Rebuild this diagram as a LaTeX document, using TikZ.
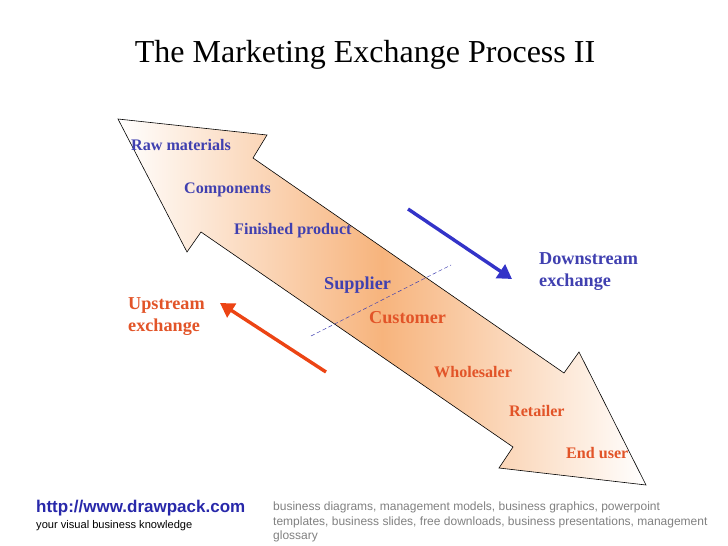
\documentclass[tikz,border=0pt]{standalone}
\usepackage{fontspec}
\setmainfont{Liberation Serif}
\setsansfont{Liberation Sans}
\usetikzlibrary{arrows.meta}
\definecolor{tblue}{RGB}{64,64,176}
\definecolor{torange}{RGB}{226,84,40}
\definecolor{ablue}{RGB}{51,51,200}
\definecolor{ared}{RGB}{236,68,20}
\definecolor{band}{RGB}{247,180,125}
\definecolor{urlblue}{RGB}{40,40,170}
\begin{document}
\begin{tikzpicture}[x=1pt,y=-1pt,
  lbl/.style={font=\bfseries\fontsize{16.1}{18}\selectfont, anchor=west, inner sep=0pt},
  big/.style={font=\bfseries\fontsize{18.2}{22}\selectfont, anchor=west, inner sep=0pt, align=left},
  bluetx/.style={text=tblue},
  orgtx/.style={text=torange},
  fatarrow/.style={line width=3.4pt, -{Triangle[length=14pt,width=16pt]}}
]
\useasboundingbox (0,0) rectangle (728,546);
% double arrow band
\shade[left color=white, right color=white, middle color=band]
  (118,119) -- (267,135) -- (253,158) -- (564,373) -- (579,352) -- (646,485)
  -- (499,468) -- (513,447) -- (201,232) -- (187,252) -- cycle;
\draw[line width=0.6pt]
  (118,119) -- (267,135) -- (253,158) -- (564,373) -- (579,352) -- (646,485)
  -- (499,468) -- (513,447) -- (201,232) -- (187,252) -- cycle;
% dashed divider
\coordinate (d1) at (311,336);
\coordinate (d2) at (451,265);
\draw[tblue, dashed, dash pattern=on 4pt off 2.5pt, line width=0.5pt] (d1) -- (d2);
% title
\node (title) at (365,55) {\fontsize{32}{36}\selectfont The Marketing Exchange Process II};
% labels
\node[lbl,bluetx] (raw) at (131,145) {Raw materials};
\node[lbl,bluetx] (comp) at (184,190) {Components};
\node[lbl,bluetx] (fin) at (234,231) {Finished product};
\node[big,bluetx] (sup) at (324,285) {Supplier};
\node[big,orgtx] (cus) at (369,318) {Customer};
\node[lbl,orgtx] (whole) at (434,372) {Wholesaler};
\node[lbl,orgtx] (ret) at (509,411) {Retailer};
\node[lbl,orgtx] (end) at (566,453) {End user};
\node[big,bluetx] (down) at (539,272) {Downstream\\exchange};
\node[big,orgtx] (up) at (128,317) {Upstream\\exchange};
% exchange arrows
\coordinate (b1) at (408,209);
\coordinate (b2) at (512,279);
\draw[ablue, fatarrow] (b1) -- (b2);
\coordinate (r1) at (326,372);
\coordinate (r2) at (220,303);
\draw[ared, fatarrow] (r1) -- (r2);
% footer
\node[anchor=west, inner sep=0pt, text=urlblue, font=\sffamily\bfseries\fontsize{17}{19}\selectfont] (url) at (36,508) {http://www.drawpack.com};
\node[anchor=west, inner sep=0pt, font=\sffamily\fontsize{11.1}{13}\selectfont] (tag) at (36,526) {your visual business knowledge};
\node[anchor=north west, inner sep=0pt, text=gray, align=left, font=\sffamily\fontsize{12}{14.5}\selectfont] (foot) at (273,502) {business diagrams, management models, business graphics, powerpoint\\templates, business slides, free downloads, business presentations, management\\glossary};
\end{tikzpicture}
\end{document}
